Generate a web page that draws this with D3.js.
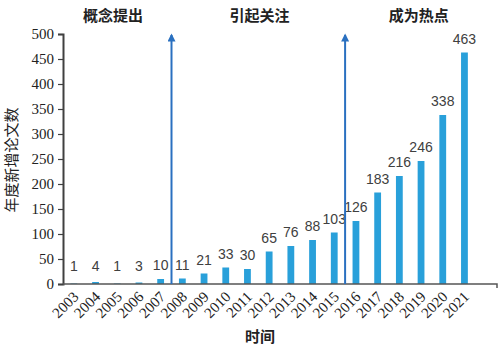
<!DOCTYPE html>
<html><head><meta charset="utf-8">
<script src="https://cdn.jsdelivr.net/npm/d3@7"></script>
<style>body{margin:0;background:#fff}svg{display:block}</style>
</head><body>
<script>
const years = ["2003","2004","2005","2006","2007","2008","2009","2010","2011","2012","2013","2014","2015","2016","2017","2018","2019","2020","2021"];
const counts = [1,4,1,3,10,11,21,33,30,65,76,88,103,126,183,216,246,338,463];
const yTicks = [0,50,100,150,200,250,300,350,400,450,500];
const phases = ["概念提出","引起关注","成为热点"];
const phasePos = [1.8, 8.55, 15.9];   // category-index positions of the phase labels
const arrowAfter = ["2007","2015"];   // arrows drawn between these and the next year

const W=500,H=345;
const m={l:63,r:3,t:34,b:61};
const svg=d3.select("body").append("svg").attr("width",W).attr("height",H);
const slots=years.concat(["_"]);
const x=d3.scaleBand().domain(slots).range([m.l,W-m.r]).paddingInner(0).paddingOuter(0);
const y=d3.scaleLinear().domain([0,500]).range([H-m.b,m.t]);
const bw=6.8;
const serif="'Liberation Serif','Times New Roman',serif";
const cjk="'Noto Sans CJK SC','Noto Sans',sans-serif";

// bars
svg.selectAll("rect.bar").data(years).enter().append("rect")
 .attr("x",d=>x(d)+x.bandwidth()/2-bw/2).attr("width",bw)
 .attr("y",(d,i)=>y(counts[i])).attr("height",(d,i)=>y(0)-y(counts[i]))
 .attr("fill","#29a0da");

// value labels
svg.selectAll("text.val").data(years).enter().append("text")
 .attr("x",d=>x(d)+x.bandwidth()/2).attr("y",(d,i)=>Math.min(y(counts[i]),y(0)-4)-9)
 .attr("text-anchor","middle").attr("font-family","'Liberation Sans',Arial,sans-serif")
 .attr("font-size",14).attr("fill","#404040").text((d,i)=>counts[i]);

// y axis
const ya=svg.append("g").attr("transform",`translate(${m.l},0)`)
 .call(d3.axisLeft(y).tickValues(yTicks).tickSize(5).tickPadding(4));
ya.select(".domain").attr("stroke","#404040").attr("stroke-width",2);
ya.selectAll(".tick line").attr("stroke","#404040").attr("stroke-width",1.2);
ya.selectAll("text").attr("font-family",serif).attr("font-size",15).attr("fill","#222");

// x axis
const xa=svg.append("g").attr("transform",`translate(0,${y(0)})`)
 .call(d3.axisBottom(x).tickValues(years).tickSize(0).tickPadding(0));
xa.select(".domain").attr("stroke","#555").attr("stroke-width",1.5).attr("d",`M${m.l},0H${W-m.r}V4`);
xa.selectAll(".tick text").attr("font-family",serif).attr("font-size",15).attr("fill","#222")
 .attr("text-anchor","end").attr("dy","0.35em")
 .attr("transform","translate(2,10) rotate(-45)");

// arrows
const defs=svg.append("defs");
defs.append("marker").attr("id","ah").attr("viewBox","0 0 10 10").attr("refX",8).attr("refY",5)
 .attr("markerWidth",4.5).attr("markerHeight",4).attr("markerUnits","strokeWidth").attr("orient","auto")
 .append("path").attr("d","M0,0L10,5L0,10Z").attr("fill","#2a70c0");
arrowAfter.forEach(a=>{
  const xa2=x(a)+x.bandwidth();
  svg.append("line").attr("x1",xa2).attr("x2",xa2).attr("y1",y(0)).attr("y2",y(500)+1)
   .attr("stroke","#2a70c0").attr("stroke-width",2).attr("marker-end","url(#ah)");
});

// phase labels
phases.forEach((p,i)=>{
  svg.append("text").attr("x",m.l+x.bandwidth()*(phasePos[i]+0.5)).attr("y",21)
   .attr("text-anchor","middle").attr("font-family",cjk).attr("font-weight","bold")
   .attr("font-size",15).attr("fill","#222").text(p);
});

// axis titles
svg.append("text").attr("transform",`translate(17,160) rotate(-90)`).attr("text-anchor","middle")
 .attr("font-family",cjk).attr("font-size",15).attr("fill","#222").text("年度新增论文数");
svg.append("text").attr("x",260).attr("y",342).attr("text-anchor","middle")
 .attr("font-family",cjk).attr("font-weight","bold").attr("font-size",15).attr("fill","#222").text("时间");
</script>
</body></html>
